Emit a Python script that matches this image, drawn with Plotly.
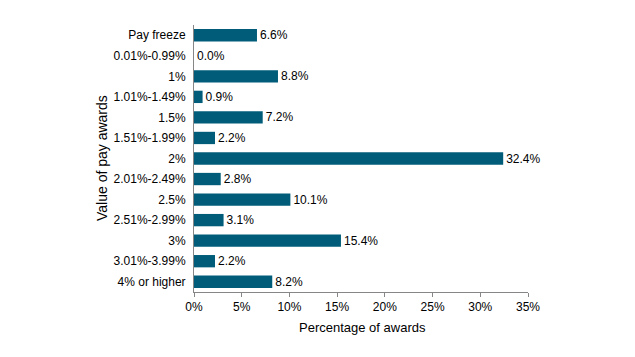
import plotly.graph_objects as go

categories = ["Pay freeze", "0.01%-0.99%", "1%", "1.01%-1.49%", "1.5%", "1.51%-1.99%",
              "2%", "2.01%-2.49%", "2.5%", "2.51%-2.99%", "3%", "3.01%-3.99%", "4% or higher"]
values = [6.6, 0.0, 8.8, 0.9, 7.2, 2.2, 32.4, 2.8, 10.1, 3.1, 15.4, 2.2, 8.2]
x_ticks = [0, 5, 10, 15, 20, 25, 30, 35]
x_tick_labels = [f"{v}%" for v in x_ticks]

font_family = "Liberation Sans, Arial, sans-serif"

# page body has an 8px offset; figure coords = screen coords - 8
OFF = 8
W, H = 635 - OFF, 357 - OFF
L, R_EDGE, T, B_EDGE = 194 - OFF, 528 - OFF, 25 - OFF, 292 - OFF
plot_w = R_EDGE - L
plot_h = B_EDGE - T

fig = go.Figure(go.Bar(
    x=values, y=categories, orientation="h",
    marker=dict(color="#005C78", line=dict(width=0)),
    text=[f"{v:.1f}%" for v in values], textposition="outside",
    constraintext="none",
    textfont=dict(size=12, color="#000000", family=font_family),
    cliponaxis=False,
    width=0.6,
))

fig.update_layout(
    width=W, height=H,
    margin=dict(l=L, r=W - R_EDGE, t=T, b=H - B_EDGE),
    paper_bgcolor="white", plot_bgcolor="white",
    font=dict(family=font_family, size=12, color="#000000"),
    showlegend=False,
    xaxis=dict(range=[0, 35], tickvals=x_ticks, ticktext=x_tick_labels,
               showgrid=False, zeroline=False, showline=True, linecolor="#868686",
               linewidth=1, ticks="outside", ticklen=4, tickcolor="#868686",
               tickfont=dict(size=12)),
    yaxis=dict(categoryorder="array", categoryarray=categories, autorange="reversed",
               showgrid=False, zeroline=False, showline=True, linecolor="#868686",
               linewidth=1, ticks="", ticklabelstandoff=5, tickfont=dict(size=12)),
    annotations=[
        dict(text="Percentage of awards", x=(362 - OFF - L) / plot_w,
             y=-(328 - 292) / plot_h, xref="paper", yref="paper",
             xanchor="center", yanchor="middle", showarrow=False,
             font=dict(size=13, family=font_family, color="#000000")),
        dict(text="Value of pay awards", x=(102 - OFF - L) / plot_w,
             y=1 - (158 - 25) / plot_h, xref="paper", yref="paper",
             xanchor="center", yanchor="middle", showarrow=False, textangle=-90,
             font=dict(size=14, family=font_family, color="#000000")),
    ],
)

fig.write_html("out.html")
